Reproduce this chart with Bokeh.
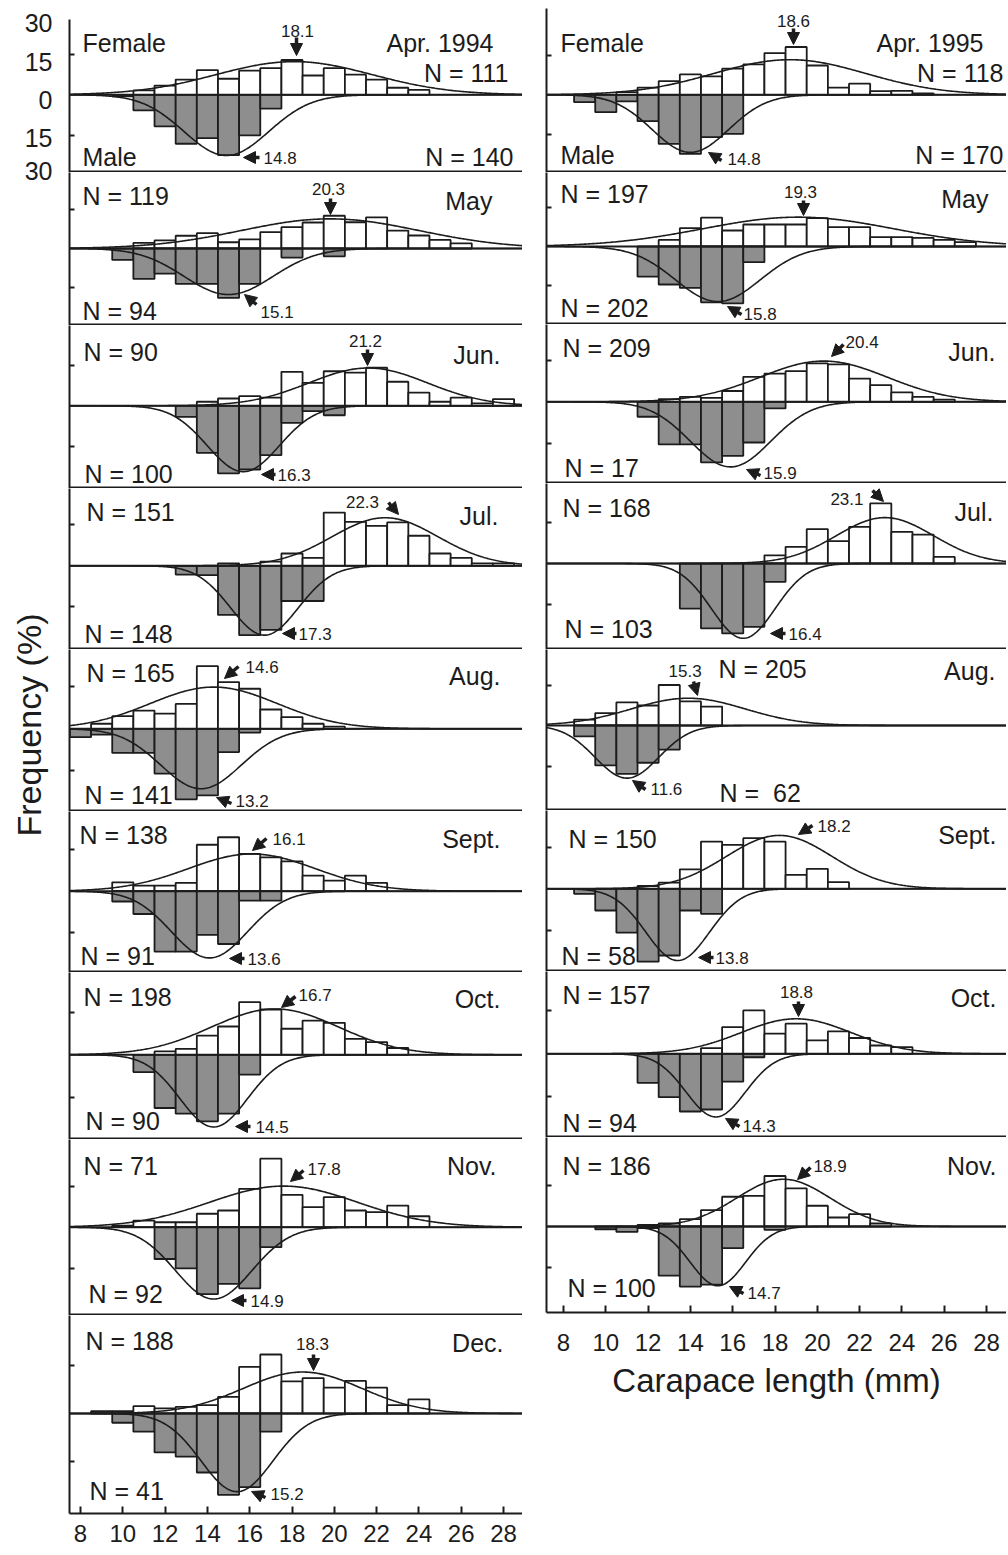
import numpy as np
from bokeh.plotting import figure
from bokeh.layouts import column, row
from bokeh.models import Range1d, LinearAxis, FixedTicker, Span, Label, Arrow, NormalHead
from bokeh.embed import file_html
from bokeh.resources import INLINE

# ---------------- data (bins: carapace length classes 8..28 mm) ----------------
BINS = list(range(8, 29))
X_TICKS = list(range(8, 30, 2))
Y_TICK_LABELS = ["30", "15", "0", "15", "30"]

# left column: Apr 1994 .. Dec 1994 ; right column: Apr 1995 .. Nov 1995  (percent)
apr94_f = [0, 0, 0, 1.6, 3.4, 5.6, 9.1, 5.9, 8.9, 9.8, 12.8, 7.1, 9.8, 7.4, 5.6, 2.6, 1.8, 0, 0, 0, 0]
apr94_m = [0, 0, 0.6, 5.7, 11.6, 18.0, 15.9, 22.2, 14.9, 5.1, 0, 0, 0, 0, 0, 0, 0, 0, 0, 0, 0]
may94_f = [0, 0, 0, 2.2, 3.1, 4.9, 5.9, 2.4, 3.5, 6.3, 8.2, 10.0, 12.6, 10.1, 12.0, 6.9, 5.0, 3.3, 2.0, 0, 0]
may94_m = [0, 0, 4.4, 11.7, 9.7, 13.6, 13.6, 19.0, 13.6, 0, 3.5, 0, 3.0, 0, 0, 0, 0, 0, 0, 0, 0]
jun94_f = [0, 0, 0, 0, 0, 0, 1.5, 2.7, 3.6, 3.0, 12.6, 8.5, 12.8, 12.3, 14.1, 8.9, 4.9, 1.5, 3.0, 0.9, 2.5]
jun94_m = [0, 0, 0, 0, 0, 4.1, 17.4, 25.0, 23.6, 18.3, 6.3, 2.0, 3.5, 0, 0, 0, 0, 0, 0, 0, 0]
jul94_f = [0, 0, 0, 0, 0, 0, 0, 0.9, 0, 1.5, 4.5, 2.9, 19.5, 16.1, 14.6, 15.9, 11.0, 4.5, 2.9, 0.9, 0.9]
jul94_m = [0, 0, 0, 0, 0, 3.2, 3.4, 18.0, 25.4, 23.5, 12.9, 12.9, 0, 0, 0, 0, 0, 0, 0, 0, 0]
aug94_f = [0, 1.8, 4.5, 6.5, 5.4, 8.9, 22.4, 16.7, 14.3, 6.9, 4.2, 1.8, 0.8, 0, 0, 0, 0, 0, 0, 0, 0]
aug94_m = [3.0, 2.1, 8.6, 8.6, 16.0, 25.2, 23.8, 8.3, 1.4, 0, 0, 0, 0, 0, 0, 0, 0, 0, 0, 0, 0]
sep94_f = [0, 0, 3.2, 2.0, 2.0, 3.0, 16.7, 19.4, 13.4, 12.2, 10.7, 5.6, 3.8, 5.6, 3.0, 0, 0, 0, 0, 0, 0]
sep94_m = [0, 0, 3.7, 8.2, 21.7, 21.7, 15.7, 19.0, 3.4, 3.4, 0, 0, 0, 0, 0, 0, 0, 0, 0, 0, 0]
oct94_f = [0, 0, 0, 0, 1.2, 2.1, 6.8, 10.0, 18.6, 16.0, 9.2, 12.1, 11.3, 5.6, 4.5, 2.4, 0, 0, 0, 0, 0]
oct94_m = [0, 0, 0, 6.1, 18.8, 20.8, 23.5, 20.8, 7.0, 0, 0, 0, 0, 0, 0, 0, 0, 0, 0, 0, 0]
nov94_f = [0, 0, 0.6, 2.4, 1.8, 1.8, 4.9, 6.1, 14.0, 25.0, 11.8, 7.3, 11.0, 6.1, 5.5, 7.9, 4.0, 0, 0, 0, 0]
nov94_m = [0, 0, 0, 0, 11.6, 15.0, 24.4, 20.7, 22.3, 7.3, 0, 0, 0, 0, 0, 0, 0, 0, 0, 0, 0]
dec94_f = [0, 0.7, 0.7, 2.3, 1.6, 2.1, 2.6, 5.2, 14.6, 18.5, 10.1, 11.1, 8.1, 10.2, 8.1, 2.6, 4.4, 0, 0, 0, 0]
dec94_m = [0, 0, 2.9, 5.7, 12.2, 13.5, 18.5, 25.5, 23.1, 5.7, 0, 0, 0, 0, 0, 0, 0, 0, 0, 0, 0]

apr95_f = [0, 0, 0, 1.0, 2.7, 5.2, 7.7, 7.0, 9.9, 11.5, 15.8, 18.1, 11.1, 2.7, 4.2, 1.4, 1.5, 0.5, 0, 0, 0]
apr95_m = [0, 2.8, 6.6, 2.5, 10.0, 18.6, 22.4, 16.0, 14.8, 0, 0, 0, 0, 0, 0, 0, 0, 0, 0, 0, 0]
may95_f = [0, 0, 0, 0, 0, 2.5, 7.0, 11.0, 6.1, 8.4, 8.4, 8.4, 10.8, 7.4, 7.4, 3.6, 3.6, 3.3, 2.5, 1.7, 0]
may95_m = [0, 0, 0, 0, 11.5, 14.5, 15.8, 21.3, 21.7, 6.0, 0, 0, 0, 0, 0, 0, 0, 0, 0, 0, 0]
jun95_f = [0, 0, 0, 0, 0, 1.0, 1.8, 1.4, 3.9, 9.0, 10.2, 11.1, 13.9, 13.5, 8.4, 6.0, 3.4, 1.8, 0.8, 0, 0]
jun95_m = [0, 0, 0, 0, 5.4, 15.4, 15.4, 21.9, 19.5, 14.7, 2.4, 0, 0, 0, 0, 0, 0, 0, 0, 0, 0]
jul95_f = [0, 0, 0, 0, 0, 0, 0, 0, 0, 0, 3.0, 6.1, 12.6, 8.2, 13.4, 22.0, 11.6, 10.6, 2.4, 0, 0]
jul95_m = [0, 0, 0, 0, 0, 0, 16.5, 23.8, 25.6, 23.2, 6.7, 0, 0, 0, 0, 0, 0, 0, 0, 0, 0]
aug95_f = [0, 2.2, 4.6, 8.6, 7.4, 15.0, 8.9, 7.0, 0, 0, 0, 0, 0, 0, 0, 0, 0, 0, 0, 0, 0]
aug95_m = [0, 4.0, 14.8, 17.9, 13.8, 8.9, 0, 0, 0, 0, 0, 0, 0, 0, 0, 0, 0, 0, 0, 0, 0]
sep95_f = [0, 0, 0, 0, 1.0, 2.2, 7.0, 17.0, 15.8, 18.2, 17.0, 5.0, 7.2, 2.4, 0, 0, 0, 0, 0, 0, 0]
sep95_m = [0, 1.8, 7.8, 15.8, 26.2, 24.0, 7.8, 9.0, 0, 0, 0, 0, 0, 0, 0, 0, 0, 0, 0, 0, 0]
oct95_f = [0, 0, 0, 0, 0, 0, 0, 2.0, 9.3, 15.1, 7.0, 10.5, 4.7, 7.8, 5.5, 2.9, 2.3, 0, 0, 0, 0]
oct95_m = [0, 0, 0, 0, 10.1, 15.1, 20.1, 19.4, 9.7, 1.2, 0, 0, 0, 0, 0, 0, 0, 0, 0, 0, 0]
nov95_f = [0, 0, 0, 0, 0.6, 1.1, 2.7, 6.0, 10.9, 11.2, 18.5, 14.0, 7.6, 3.3, 4.5, 1.1, 0, 0, 0, 0, 0]
nov95_m = [0, 0, 1.0, 2.0, 0.6, 18.0, 22.0, 21.3, 7.9, 0, 1.2, 0, 0, 0, 0, 0, 0, 0, 0, 0, 0]

months_94 = ["Apr. 1994", "May", "Jun.", "Jul.", "Aug.", "Sept.", "Oct.", "Nov.", "Dec."]
months_95 = ["Apr. 1995", "May", "Jun.", "Jul.", "Aug.", "Sept.", "Oct.", "Nov."]
n_female_94 = [111, 119, 90, 151, 165, 138, 198, 71, 188]
n_male_94 = [140, 94, 100, 148, 141, 91, 90, 92, 41]
n_female_95 = [118, 197, 209, 168, 205, 150, 157, 186]
n_male_95 = [170, 202, 17, 103, 62, 58, 94, 100]
mean_female_94 = ["18.1", "20.3", "21.2", "22.3", "14.6", "16.1", "16.7", "17.8", "18.3"]
mean_male_94 = ["14.8", "15.1", "16.3", "17.3", "13.2", "13.6", "14.5", "14.9", "15.2"]
mean_female_95 = ["18.6", "19.3", "20.4", "23.1", "15.3", "18.2", "18.8", "18.9"]
mean_male_95 = ["14.8", "15.8", "15.9", "16.4", "11.6", "13.8", "14.3", "14.7"]

# fitted normal curves: (centre mm, sd mm, peak %)
curve_f_94 = [(18.1, 3.7, 12.2), (19.8, 4.2, 11.4), (21.6, 2.8, 14.0), (22.4, 2.5, 17.6), (14.3, 3.0, 14.9),
              (16.1, 3.0, 13.4), (17.2, 3.0, 16.2), (17.6, 3.5, 15.0), (18.5, 2.8, 13.0)]
curve_m_94 = [(14.9, 2.0, 22.3), (15.0, 2.1, 17.7), (15.7, 1.7, 24.4), (16.7, 1.6, 25.4), (13.7, 1.9, 21.4),
              (14.1, 1.8, 24.0), (14.3, 1.6, 25.5), (14.3, 1.8, 26.2), (15.4, 1.7, 24.5)]
curve_f_95 = [(18.7, 3.6, 13.3), (19.1, 4.5, 11.2), (20.3, 3.0, 14.7), (23.2, 2.3, 16.8), (13.9, 2.7, 10.1),
              (18.2, 2.5, 19.2), (19.0, 2.6, 12.2), (18.4, 2.2, 17.3)]
curve_m_95 = [(14.0, 1.8, 21.8), (15.3, 2.0, 21.0), (15.9, 1.9, 23.5), (16.5, 1.5, 27.4), (11.0, 1.5, 19.5),
              (13.4, 1.5, 25.8), (15.2, 1.4, 22.0), (15.3, 1.3, 21.7)]

female_94 = [apr94_f, may94_f, jun94_f, jul94_f, aug94_f, sep94_f, oct94_f, nov94_f, dec94_f]
male_94 = [apr94_m, may94_m, jun94_m, jul94_m, aug94_m, sep94_m, oct94_m, nov94_m, dec94_m]
female_95 = [apr95_f, may95_f, jun95_f, jul95_f, aug95_f, sep95_f, oct95_f, nov95_f]
male_95 = [apr95_m, may95_m, jun95_m, jul95_m, aug95_m, sep95_m, oct95_m, nov95_m]

# ---------------- layout (page pixels) ----------------
FONT = "Liberation Sans"
INK = "#1c1c1c"
GRAY = "#8e8e8e"
BIG = "25px"
SMALL = "17px"
PX_MM = 21.15
STRIP_W = 58
X0_L, X0_R = 80.0, 563.0          # page x of 8 mm
L_FRAME = (69, 522)
R_FRAME = (546, 1006)
XR_L = (8 + (L_FRAME[0] - X0_L) / PX_MM, 8 + (L_FRAME[1] - X0_L) / PX_MM)
XR_R = (8 + (R_FRAME[0] - X0_R) / PX_MM, 8 + (R_FRAME[1] - X0_R) / PX_MM)
TOTAL_H = 1555

GEO_L = [(19, 94.3, 172, 2.72), (172, 248, 325, 2.6), (325, 405.3, 488, 2.7), (488, 565.3, 649, 2.73),
         (649, 728.3, 811, 2.8), (811, 890.7, 972, 2.78), (972, 1054.3, 1139, 2.83),
         (1139, 1226.7, 1315, 2.74), (1315, 1413, 1513, 3.19)]
GEO_R = [(8, 94.3, 172, 2.64), (172, 246, 324, 2.62), (324, 401.3, 483, 2.77), (483, 563, 649, 2.73),
         (649, 725, 810, 2.7), (810, 888.3, 971, 2.78), (971, 1053.3, 1137, 2.87), (1137, 1226, 1312, 2.73)]
YLAB_POS = [22, 61, 99, 137.5, 170]   # page y of the left-scale labels of the first panel

TXT_L = [
    dict(nf=(508, 72.5, "right"), nm=(513, 156, "right"), mon=(493, 42.5, "right"), fw=(82, 42.5), mw=(82, 156),
         fl=(297, 30, "center"), fa=(296, 37, 296, 55), ml=(263, 157, "left"), ma=(259, 157, 243, 157)),
    dict(nf=(82, 195, "left"), nm=(82, 310, "left"), mon=(492, 200, "right"),
         fl=(328, 188, "center"), fa=(330, 198, 330, 214), ml=(260, 311, "left"), ma=(256, 304, 244, 294)),
    dict(nf=(83, 351, "left"), nm=(84, 473, "left"), mon=(500, 354, "right"),
         fl=(365, 340, "center"), fa=(367, 349, 367, 365), ml=(277, 474, "left"), ma=(275, 474, 261, 474)),
    dict(nf=(86, 511, "left"), nm=(84, 633, "left"), mon=(498, 515, "right"),
         fl=(362, 501, "center"), fa=(388, 502, 398, 514), ml=(298, 633, "left"), ma=(296, 633, 282, 633)),
    dict(nf=(86, 672, "left"), nm=(84, 794, "left"), mon=(500, 675, "right"),
         fl=(245, 666, "left"), fa=(238, 666, 224, 678), ml=(235, 800, "left"), ma=(231, 803, 216, 797)),
    dict(nf=(79, 834, "left"), nm=(80, 955, "left"), mon=(500, 838, "right"),
         fl=(272, 838, "left"), fa=(266, 838, 252, 850), ml=(247, 958, "left"), ma=(244, 958, 229, 958)),
    dict(nf=(83, 996, "left"), nm=(85, 1120, "left"), mon=(500, 998, "right"),
         fl=(298, 994, "left"), fa=(295, 996, 281, 1007), ml=(255, 1126, "left"), ma=(250, 1126, 235, 1126)),
    dict(nf=(83, 1165, "left"), nm=(88, 1293, "left"), mon=(496, 1165, "right"),
         fl=(307, 1168, "left"), fa=(303, 1170, 290, 1181), ml=(250, 1300, "left"), ma=(246, 1300, 231, 1300)),
    dict(nf=(85, 1340, "left"), nm=(89, 1490, "left"), mon=(503, 1342, "right"),
         fl=(312, 1343, "center"), fa=(313, 1354, 313, 1370), ml=(270, 1493, "left"), ma=(265, 1497, 251, 1491)),
]
TXT_R = [
    dict(nf=(1003, 72, "right"), nm=(1003, 154, "right"), mon=(983, 42, "right"), fw=(560, 42), mw=(560, 154),
         fl=(793, 20, "center"), fa=(793, 28, 793, 44), ml=(727, 158, "left"), ma=(721, 160, 708, 152)),
    dict(nf=(560, 193, "left"), nm=(560, 307, "left"), mon=(988, 198, "right"),
         fl=(800, 191, "center"), fa=(803, 200, 803, 215), ml=(743, 313, "left"), ma=(741, 314, 727, 306)),
    dict(nf=(562, 347, "left"), nm=(564, 467, "left"), mon=(995, 351, "right"),
         fl=(845, 341, "left"), fa=(843, 344, 831, 356), ml=(763, 472, "left"), ma=(760, 475, 746, 469)),
    dict(nf=(562, 507, "left"), nm=(564, 628, "left"), mon=(993, 511, "right"),
         fl=(863, 498, "right"), fa=(872, 490, 883, 501), ml=(788, 633, "left"), ma=(785, 633, 770, 633)),
    dict(nf=(718, 668, "left"), nm=(719, 792, "left"), mon=(995, 670, "right"), nsep_m="N = \u00a0",
         fl=(668, 670, "left"), fa=(693, 681, 697, 695), ml=(650, 788, "left"), ma=(645, 789, 632, 780)),
    dict(nf=(568, 838, "left"), nm=(561, 955, "left"), mon=(996, 834, "right"),
         fl=(817, 825, "left"), fa=(812, 825, 798, 834), ml=(715, 957, "left"), ma=(713, 957, 698, 957)),
    dict(nf=(562, 994, "left"), nm=(562, 1122, "left"), mon=(996, 997, "right"),
         fl=(796, 991, "center"), fa=(798, 1001, 798, 1016), ml=(742, 1125, "left"), ma=(739, 1126, 725, 1118)),
    dict(nf=(562, 1165, "left"), nm=(567, 1287, "left"), mon=(996, 1165, "right"),
         fl=(813, 1165, "left"), fa=(810, 1167, 797, 1179), ml=(747, 1292, "left"), ma=(743, 1293, 729, 1286)),
]


def make_panel(geo, txt, fem, mal, cf, cm, month, nf, nm, mf, mm, x0, xr, frame, bl,
               first=False, last=False, xlabel=None, bb=0):
    top, zero, bot, s = geo
    lo, hi = -(bot - zero) / s, (zero - top) / s
    bt = int(top) if first else 0
    width = bl + frame[1] - frame[0]
    p = figure(width=width, height=int(bot - top) + bt + bb, x_range=Range1d(*xr), y_range=Range1d(lo, hi),
               output_backend="svg", toolbar_location=None, x_axis_location=None, y_axis_location=None,
               min_border_left=bl, min_border_right=0, min_border_top=bt, min_border_bottom=bb,
               outline_line_color=None, background_fill_color="white", border_fill_color="white")
    p.grid.visible = False

    def X(px):
        return 8 + (px - x0) / PX_MM

    def Y(py):
        return (zero - py) / s

    yax = LinearAxis(ticker=FixedTicker(ticks=[-15.0, 15.0]), major_label_overrides={-15.0: "", 15.0: ""},
                     axis_line_width=2, axis_line_color=INK, major_tick_in=5, major_tick_out=0,
                     major_tick_line_width=2, major_tick_line_color=INK, minor_tick_in=0, minor_tick_out=0,
                     major_label_text_font=FONT, major_label_text_font_size="1px",
                     major_label_text_color=INK, major_label_standoff=0)
    p.add_layout(yax, "left")

    if last:
        xax = LinearAxis(ticker=FixedTicker(ticks=X_TICKS), axis_line_width=2, axis_line_color=INK,
                         major_tick_in=7, major_tick_out=0, major_tick_line_width=2, major_tick_line_color=INK,
                         minor_tick_in=0, minor_tick_out=0, major_label_text_font=FONT,
                         major_label_text_font_size="24px", major_label_text_color=INK,
                         major_label_standoff=21 if xlabel else 11)
        if xlabel:
            xax.axis_label = xlabel
            xax.axis_label_text_font = FONT
            xax.axis_label_text_font_size = "33px"
            xax.axis_label_text_font_style = "normal"
            xax.axis_label_text_color = INK
            xax.axis_label_standoff = 8
        p.add_layout(xax, "below")
    else:
        p.add_layout(Span(location=lo + 1.0 / s, dimension="width", line_color=INK, line_width=2))

    # bars
    bf = [b for b, v in zip(BINS, fem) if v > 0]
    vf = [v for v in fem if v > 0]
    bm = [b for b, v in zip(BINS, mal) if v > 0]
    vm = [-v for v in mal if v > 0]
    p.quad(left=[b - 0.5 for b in bf], right=[b + 0.5 for b in bf], bottom=0, top=vf,
           fill_color="white", line_color=INK, line_width=1.8)
    p.quad(left=[b - 0.5 for b in bm], right=[b + 0.5 for b in bm], bottom=vm, top=0,
           fill_color=GRAY, line_color=INK, line_width=1.8)

    # fitted normal curves
    xs = np.linspace(xr[0], xr[1], 400)
    mu, sd, pk = cf
    p.line(xs, pk * np.exp(-0.5 * ((xs - mu) / sd) ** 2), line_color=INK, line_width=1.6)
    mu, sd, pk = cm
    p.line(xs, -pk * np.exp(-0.5 * ((xs - mu) / sd) ** 2), line_color=INK, line_width=1.6)

    p.add_layout(Span(location=0, dimension="width", line_color=INK, line_width=2))

    def lab(text, pos, size, align="left"):
        p.add_layout(Label(x=X(pos[0]), y=Y(pos[1]), text=text, text_font=FONT, text_font_size=size,
                           text_color=INK, text_align=align, text_baseline="middle"))

    lab(f"{txt.get('nsep_f', 'N = ')}{nf}", txt["nf"][:2], BIG, txt["nf"][2])
    lab(f"{txt.get('nsep_m', 'N = ')}{nm}", txt["nm"][:2], BIG, txt["nm"][2])
    lab(month, txt["mon"][:2], BIG, txt["mon"][2])
    if "fw" in txt:
        lab("Female", txt["fw"], BIG)
        lab("Male", txt["mw"], BIG)
    lab(mf, txt["fl"][:2], SMALL, txt["fl"][2])
    lab(mm, txt["ml"][:2], SMALL, txt["ml"][2])
    for key in ("fa", "ma"):
        tx, ty, hx, hy = txt[key]
        p.add_layout(Arrow(end=NormalHead(size=12, line_color=INK, fill_color=INK, line_width=1),
                           x_start=X(tx), y_start=Y(ty), x_end=X(hx), y_end=Y(hy),
                           line_color=INK, line_width=3.5))
    return p


BL_L = L_FRAME[0] - STRIP_W
BL_R = R_FRAME[0] - L_FRAME[1]

left_panels = []
for i in range(9):
    left_panels.append(make_panel(GEO_L[i], TXT_L[i], female_94[i], male_94[i], curve_f_94[i], curve_m_94[i],
                                  months_94[i], n_female_94[i], n_male_94[i], mean_female_94[i], mean_male_94[i],
                                  X0_L, XR_L, L_FRAME, BL_L, first=(i == 0), last=(i == 8),
                                  bb=(TOTAL_H - 2 - GEO_L[8][2]) if i == 8 else 0))

right_panels = []
for i in range(8):
    right_panels.append(make_panel(GEO_R[i], TXT_R[i], female_95[i], male_95[i], curve_f_95[i], curve_m_95[i],
                                   months_95[i], n_female_95[i], n_male_95[i], mean_female_95[i], mean_male_95[i],
                                   X0_R, XR_R, R_FRAME, BL_R, first=(i == 0), last=(i == 7),
                                   xlabel="Carapace length (mm)" if i == 7 else None, bb=120 if i == 7 else 0))

# strip on the far left: shared y-axis title and the scale labels of the first panel
strip_h = TOTAL_H - 2
strip = figure(width=STRIP_W, height=strip_h, x_range=Range1d(0, STRIP_W), y_range=Range1d(strip_h, 0),
               output_backend="svg", toolbar_location=None, x_axis_location=None, y_axis_location=None,
               min_border_left=0, min_border_right=0, min_border_top=0, min_border_bottom=0,
               outline_line_color=None, background_fill_color="white", border_fill_color="white")
strip.grid.visible = False
strip.text(x=[52] * len(Y_TICK_LABELS), y=YLAB_POS, text=Y_TICK_LABELS, text_font_size="25px",
           text_color=INK, text_align="right", text_baseline="middle", text_font={"value": FONT})
strip.add_layout(Label(x=28, y=724.5, text="Frequency (%)", angle=np.pi / 2,
                       text_font=FONT, text_font_size="34px", text_color=INK,
                       text_align="center", text_baseline="middle"))

left_col = column(*left_panels, spacing=0)
right_col = column(*right_panels, spacing=0)
layout = row(strip, left_col, right_col, spacing=0)

open("out.html", "w").write(file_html(layout, INLINE))
